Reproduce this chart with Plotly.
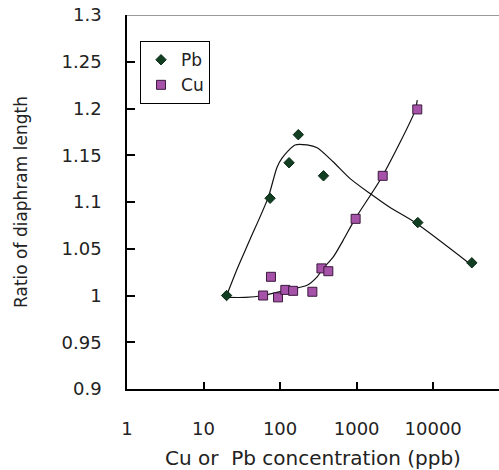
import plotly.graph_objects as go

# Measured points
pb_x = [20, 74, 131, 173, 369, 6300, 32000]
pb_y = [1.000, 1.104, 1.142, 1.172, 1.128, 1.078, 1.035]

cu_x = [60, 76, 94, 117, 148, 264, 347, 427, 970, 2190, 6200]
cu_y = [1.000, 1.020, 0.998, 1.006, 1.005, 1.004, 1.029, 1.026, 1.082, 1.128, 1.199]

# Hand-drawn trend curves
pb_fit_x = [20, 28, 40, 70, 91, 106, 157, 225, 305, 493, 823, 1500, 2740, 5820, 30000]
pb_fit_y = [1.000, 1.030, 1.059, 1.105, 1.137, 1.147, 1.161, 1.161, 1.158, 1.143, 1.125, 1.109, 1.094, 1.078, 1.034]

cu_fit_x = [20, 35, 60, 124, 225, 305, 365, 493, 666, 955, 2150, 5820, 6200]
cu_fit_y = [0.998, 0.998, 1.000, 1.006, 1.011, 1.020, 1.029, 1.041, 1.059, 1.082, 1.127, 1.198, 1.209]

y_ticks = [0.9, 0.95, 1.0, 1.05, 1.1, 1.15, 1.2, 1.25, 1.3]
y_tick_text = ["0.9", "0.95", "1", "1.05", "1.1", "1.15", "1.2", "1.25", "1.3"]
x_ticks = [1, 10, 100, 1000, 10000]
x_tick_text = ["1", "10", "100", "1000", "10000"]

FONT = "DejaVu Sans"

fig = go.Figure()
fig.add_trace(go.Scatter(x=pb_fit_x, y=pb_fit_y, mode="lines", line=dict(color="#111", width=1.2, shape="spline", smoothing=0.7), showlegend=False, hoverinfo="skip"))
fig.add_trace(go.Scatter(x=cu_fit_x, y=cu_fit_y, mode="lines", line=dict(color="#111", width=1.2, shape="spline", smoothing=0.7), showlegend=False, hoverinfo="skip"))
fig.add_trace(go.Scatter(x=pb_x, y=pb_y, mode="markers", name="Pb",
                         marker=dict(symbol="diamond", size=8, color="#123f22", line=dict(color="#0b2a16", width=1))))
fig.add_trace(go.Scatter(x=cu_x, y=cu_y, mode="markers", name="Cu",
                         marker=dict(symbol="square", size=9, color="#a552a8", line=dict(color="#3a1a3c", width=1))))

fig.add_shape(type="line", xref="paper", yref="y", x0=0, x1=1, y0=1.3, y1=1.3, line=dict(color="#9a9a9a", width=2))

fig.update_layout(
    width=499, height=470,
    margin=dict(l=127, r=0, t=15, b=81),
    paper_bgcolor="white", plot_bgcolor="white",
    font=dict(family=FONT, size=17, color="#222"),
    legend=dict(x=0.035, y=0.93, xanchor="left", yanchor="top", bordercolor="black", borderwidth=1,
                bgcolor="white", font=dict(size=17), itemwidth=30, tracegroupgap=0),
    xaxis=dict(type="log", range=[0, 4.86], tickvals=x_ticks, ticktext=x_tick_text,
               ticks="inside", ticklen=7, tickcolor="black", tickwidth=1.5,
               showline=True, linecolor="black", linewidth=1.5, showgrid=False, zeroline=False,
               ticklabelstandoff=23, tickfont=dict(size=18),
               title=dict(text="Cu or  Pb concentration (ppb)", standoff=14, font=dict(size=20))),
    yaxis=dict(range=[0.9, 1.3], tickvals=y_ticks, ticktext=y_tick_text,
               ticks="inside", ticklen=8, tickcolor="black", tickwidth=1.5,
               showline=True, linecolor="black", linewidth=1.5, showgrid=False, zeroline=False,
               ticklabelstandoff=20, tickfont=dict(size=18),
               title=dict(text="Ratio of diaphram length", standoff=30, font=dict(size=17))),
)

fig.write_html("out.html")
